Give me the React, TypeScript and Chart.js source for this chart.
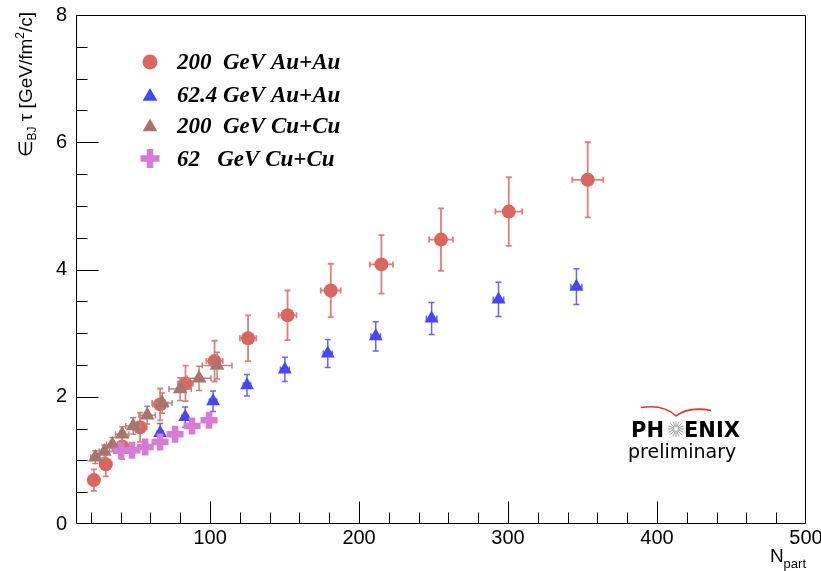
import React, { useEffect, useRef } from 'react';
import { Chart, registerables } from 'chart.js';
import { drawPoint } from 'chart.js/helpers';

Chart.register(...registerables);

// ---- data ----
const auau200N = [22, 30, 41, 53, 66.5, 83.5, 103, 125.5, 152, 181, 215, 255, 300.5, 353.5];
const auau200Y = [0.69, 0.94, 1.22, 1.52, 1.88, 2.21, 2.56, 2.92, 3.28, 3.67, 4.08, 4.47, 4.91, 5.41];
const auau200YErr = [0.17, 0.19, 0.2, 0.23, 0.25, 0.28, 0.32, 0.36, 0.39, 0.42, 0.46, 0.49, 0.54, 0.59];
const auau200XErr = [3, 3.5, 4, 4.5, 5, 5, 5.5, 5.5, 6, 6.7, 7.7, 8, 9, 10.4];

const auau62N = [66.5, 83.3, 102, 124.8, 150.2, 179, 211.2, 248.7, 293.6, 345.9];
const auau62Y = [1.43, 1.68, 1.93, 2.18, 2.43, 2.68, 2.95, 3.23, 3.53, 3.73];
const auau62YErr = [0.15, 0.16, 0.16, 0.17, 0.19, 0.22, 0.23, 0.25, 0.27, 0.28];
const auau62XErr = [2, 2, 2.5, 2.5, 3, 3, 3.2, 3.5, 3.5, 3.7];

const cucu200N = [23, 29, 34.4, 41, 48.4, 57.8, 67.8, 79.9, 92.6, 104.7];
const cucu200Y = [1.05, 1.14, 1.25, 1.41, 1.54, 1.71, 1.9, 2.12, 2.29, 2.49];
const cucu200YErr = [0.1, 0.1, 0.11, 0.12, 0.13, 0.14, 0.16, 0.18, 0.19, 0.21];
const cucu200XErr = [3, 3.5, 4, 4.5, 5, 5.5, 6.7, 7.5, 8, 10];

const cucu62N = [40.3, 47.6, 56.4, 66.4, 76.5, 87.9, 99.3];
const cucu62Y = [1.15, 1.16, 1.21, 1.29, 1.41, 1.54, 1.63];
const cucu62YErr = [0.06, 0.06, 0.06, 0.07, 0.07, 0.08, 0.08];
const cucu62XErr = [2, 2, 2, 2.5, 2.5, 3, 3];

const legendLabels = ['200  GeV Au+Au', '62.4 GeV Au+Au', '200  GeV Cu+Cu', '62   GeV Cu+Cu'];
const xTickValues = [100, 200, 300, 400, 500];
const yTickValues = [0, 2, 4, 6, 8];

const RED = '#d9665f';
const RED_BAR = '#e0807a';
const BLUE = '#4646f6';
const BLUE_BAR = '#6666f8';
const BROWN = '#a8746f';
const BROWN_BAR = '#b6877f';
const PINK = '#d67cd6';

const pts = (xs: number[], ys: number[]) => xs.map((x, i) => ({ x, y: ys[i] }));

const errorBarPlugin = {
  id: 'errorBars',
  beforeDatasetDraw(chart: any, args: any) {
    const ds: any = chart.data.datasets[args.index];
    if (!ds.xErr) return;
    const xs = chart.scales.x;
    const ys = chart.scales.y;
    const ctx = chart.ctx;
    ctx.save();
    ctx.strokeStyle = ds.barColor;
    ctx.lineWidth = ds.barWidth;
    const c = ds.capSize;
    ds.data.forEach((p: any, i: number) => {
      const px = xs.getPixelForValue(p.x);
      const py = ys.getPixelForValue(p.y);
      const x0 = xs.getPixelForValue(p.x - ds.xErr[i]);
      const x1 = xs.getPixelForValue(p.x + ds.xErr[i]);
      const y0 = ys.getPixelForValue(p.y - ds.yErr[i]);
      const y1 = ys.getPixelForValue(p.y + ds.yErr[i]);
      ctx.beginPath();
      ctx.moveTo(x0, py); ctx.lineTo(x1, py);
      ctx.moveTo(px, y0); ctx.lineTo(px, y1);
      ctx.moveTo(x0, py - c); ctx.lineTo(x0, py + c);
      ctx.moveTo(x1, py - c); ctx.lineTo(x1, py + c);
      ctx.moveTo(px - c, y0); ctx.lineTo(px + c, y0);
      ctx.moveTo(px - c, y1); ctx.lineTo(px + c, y1);
      ctx.stroke();
    });
    ctx.restore();
  },
};

const framePlugin = {
  id: 'frame',
  beforeDatasetsDraw(chart: any) {
    const { ctx, chartArea } = chart;
    const { left, right, top, bottom } = chartArea;
    const xs = chart.scales.x;
    const ys = chart.scales.y;
    const L = Math.round(left) + 0.5;
    const R = Math.round(right) - 0.5;
    const T = Math.round(top) + 0.5;
    const B = Math.round(bottom) - 0.5;
    ctx.save();
    ctx.strokeStyle = '#000';
    ctx.lineWidth = 1;
    ctx.beginPath();
    ctx.moveTo(L, T); ctx.lineTo(R, T); ctx.lineTo(R, B); ctx.lineTo(L, B); ctx.closePath();
    for (let v = 0.5; v < 8; v += 0.5) {
      const y = Math.round(ys.getPixelForValue(v)) + 0.5;
      const len = v % 2 === 0 ? 22 : 11;
      ctx.moveTo(L, y); ctx.lineTo(L + len, y);
    }
    for (let v = 20; v < 500; v += 20) {
      const x = Math.round(xs.getPixelForValue(v)) + 0.5;
      const len = v % 100 === 0 ? 22 : 11;
      ctx.moveTo(x, B); ctx.lineTo(x, B - len);
    }
    ctx.stroke();
    ctx.restore();
  },
};

const decorPlugin = {
  id: 'decor',
  afterDraw(chart: any) {
    const ctx = chart.ctx;
    ctx.save();
    // legend
    const rows = [63, 96.5, 127.5, 160];
    const mrows = [62, 96.5, 127, 158.5];
    chart.data.datasets.forEach((ds: any, i: number) => {
      ctx.save();
      ctx.fillStyle = ds.backgroundColor;
      ctx.strokeStyle = ds.borderColor || ds.backgroundColor;
      ctx.lineWidth = ds.borderWidth;
      drawPoint(ctx, { pointStyle: ds.pointStyle, radius: ds.legendRadius, borderWidth: ds.borderWidth, rotation: 0 }, 150, mrows[i]);
      ctx.restore();
      ctx.fillStyle = '#000';
      ctx.font = 'italic bold 23px "Liberation Serif"';
      ctx.textBaseline = 'middle';
      ctx.textAlign = 'left';
      ctx.fillText(ds.label, 177, rows[i]);
    });

    // y title (rotated)
    ctx.save();
    ctx.translate(32, 157);
    ctx.rotate(-Math.PI / 2);
    ctx.fillStyle = '#000';
    ctx.textBaseline = 'alphabetic';
    ctx.textAlign = 'left';
    let u = 0;
    const piece = (t: string, size: number, dv: number) => {
      ctx.font = `${size}px "Liberation Sans", "DejaVu Sans"`;
      ctx.fillText(t, u, dv);
      u += ctx.measureText(t).width;
    };
    piece('\u2208', 19, 0);
    piece('BJ', 12, 4);
    piece(' \u03c4 ', 19, 0);
    piece('[GeV/fm', 19, 0);
    piece('2', 12, -8);
    piece('/c]', 19, 0);
    ctx.restore();

    // x title
    ctx.fillStyle = '#000';
    ctx.textBaseline = 'alphabetic';
    ctx.textAlign = 'right';
    ctx.font = '13px "Liberation Sans"';
    const wp = ctx.measureText('part').width;
    ctx.fillText('part', 806, 568);
    ctx.font = '19px "Liberation Sans"';
    ctx.fillText('N', 806 - wp, 562);

    // PHENIX logo
    ctx.textAlign = 'left';
    ctx.font = 'bold 21px "DejaVu Sans"';
    ctx.fillText('PH', 631, 437);
    ctx.fillText('ENIX', 684, 437);
    ctx.font = '19px "DejaVu Sans"';
    ctx.fillText('preliminary', 628, 458);
    ctx.strokeStyle = '#808080';
    ctx.lineWidth = 0.8;
    ctx.beginPath();
    for (let k = 0; k < 16; k++) {
      const a = (k * Math.PI) / 8;
      ctx.moveTo(676 + 2 * Math.cos(a), 429 + 2 * Math.sin(a));
      ctx.lineTo(676 + 8 * Math.cos(a), 429 + 8 * Math.sin(a));
    }
    ctx.stroke();
    ctx.strokeStyle = '#e8322c';
    ctx.lineWidth = 1.6;
    ctx.beginPath();
    ctx.moveTo(641, 407.5);
    ctx.quadraticCurveTo(664, 404, 676, 416);
    ctx.moveTo(676, 416);
    ctx.quadraticCurveTo(689, 406, 711, 410.5);
    ctx.stroke();
    ctx.restore();
  },
};

export default function App() {
  const ref = useRef<HTMLCanvasElement>(null);
  useEffect(() => {
    if (!ref.current) return;
    const tickFont = { family: '"Liberation Sans", Arial, sans-serif', size: 20 };
    const chart = new Chart(ref.current, {
      type: 'scatter',
      data: {
        datasets: [
          {
            label: legendLabels[0], data: pts(auau200N, auau200Y), pointStyle: 'circle', pointRadius: 7,
            backgroundColor: RED, borderColor: RED, borderWidth: 0, order: 4,
            xErr: auau200XErr, yErr: auau200YErr, barColor: RED_BAR, barWidth: 1.8, capSize: 3, legendRadius: 7.5,
          } as any,
          {
            label: legendLabels[1], data: pts(auau62N, auau62Y), pointStyle: 'triangle', pointRadius: 8,
            backgroundColor: BLUE, borderColor: BLUE, borderWidth: 0, order: 3,
            xErr: auau62XErr, yErr: auau62YErr, barColor: BLUE_BAR, barWidth: 1.5, capSize: 3, legendRadius: 8.5,
          } as any,
          {
            label: legendLabels[2], data: pts(cucu200N, cucu200Y), pointStyle: 'triangle', pointRadius: 8.5,
            backgroundColor: BROWN, borderColor: BROWN, borderWidth: 0, order: 2,
            xErr: cucu200XErr, yErr: cucu200YErr, barColor: BROWN_BAR, barWidth: 1.5, capSize: 3, legendRadius: 8.5,
          } as any,
          {
            label: legendLabels[3], data: pts(cucu62N, cucu62Y), pointStyle: 'cross', pointRadius: 8.5,
            backgroundColor: PINK, borderColor: PINK, borderWidth: 6.5, order: 1,
            xErr: cucu62XErr, yErr: cucu62YErr, barColor: PINK, barWidth: 1.5, capSize: 3, legendRadius: 9.5,
          } as any,
        ],
      },
      options: {
        responsive: false,
        animation: false,
        events: [],
        layout: { padding: { top: 14, right: 15, left: 0, bottom: 0 } },
        plugins: { legend: { display: false }, tooltip: { enabled: false } },
        scales: {
          x: {
            type: 'linear', min: 10, max: 500,
            grid: { display: false, drawTicks: false }, border: { display: false },
            afterBuildTicks: (s: any) => { s.ticks = xTickValues.map((value) => ({ value })); },
            afterFit: (s: any) => { s.height = 47; s.paddingLeft = 0; s.paddingRight = 0; },
            ticks: { font: tickFont, color: '#000', padding: 2, maxRotation: 0, autoSkip: false },
          },
          y: {
            type: 'linear', min: 0, max: 8,
            grid: { display: false, drawTicks: false }, border: { display: false },
            afterBuildTicks: (s: any) => { s.ticks = yTickValues.map((value) => ({ value })); },
            afterFit: (s: any) => { s.width = 76; s.paddingTop = 0; s.paddingBottom = 0; },
            ticks: { font: tickFont, color: '#000', padding: 9, autoSkip: false },
          },
        },
      },
      plugins: [errorBarPlugin, framePlugin, decorPlugin],
    } as any);
    return () => chart.destroy();
  }, []);
  return (
    <canvas
      ref={ref}
      width={821}
      height={571}
      style={{ position: 'fixed', left: 0, top: 0, width: 821, height: 571, display: 'block', background: '#fff' }}
    />
  );
}
